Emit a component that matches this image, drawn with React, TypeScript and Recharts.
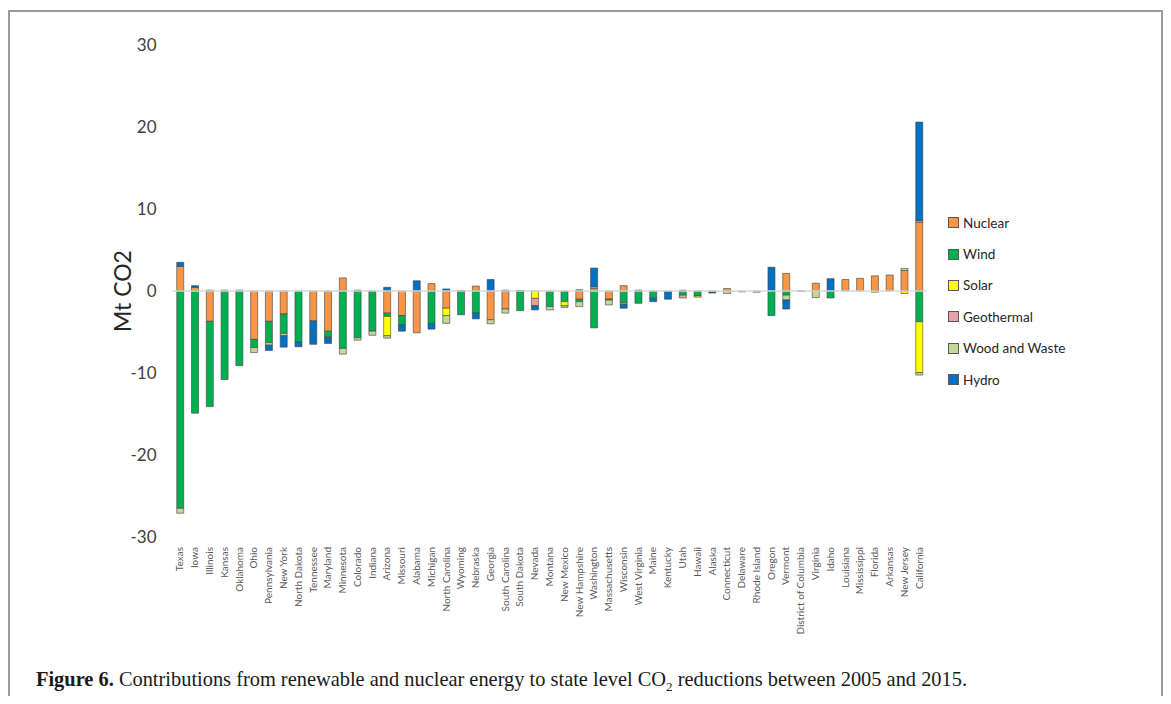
import React from 'react';
import { BarChart, Bar, XAxis, YAxis, ReferenceLine } from 'recharts';

const states = [
  'Texas', 'Iowa', 'Illinois', 'Kansas', 'Oklahoma', 'Ohio', 'Pennsylvania', 'New York', 'North Dakota',
  'Tennessee', 'Maryland', 'Minnesota', 'Colorado', 'Indiana', 'Arizona', 'Missouri', 'Alabama', 'Michigan',
  'North Carolina', 'Wyoming', 'Nebraska', 'Georgia', 'South Carolina', 'South Dakota', 'Nevada', 'Montana',
  'New Mexico', 'New Hampshire', 'Washington', 'Massachusetts', 'Wisconsin', 'West Virginia', 'Maine',
  'Kentucky', 'Utah', 'Hawaii', 'Alaska', 'Connecticut', 'Delaware', 'Rhode Island', 'Oregon', 'Vermont',
  'District of Columbia', 'Virginia', 'Idaho', 'Louisiana', 'Mississippi', 'Florida', 'Arkansas',
  'New Jersey', 'California',
];

const nuclear = [
  3.0, 0.45, -3.7, 0, 0, -5.9, -3.7, -2.8, 0, -3.65, -4.9, 1.6, 0, 0, -2.7, -3.0, -5.1, 0.9,
  -2.1, 0, 0.6, -3.5, -2.2, 0, 0, 0, 0, -1.0, 0.3, -1.0, 0.65, 0, 0,
  0, 0, 0, 0, 0.3, 0, 0, 0, 2.15, 0, 0.95, 0, 1.4, 1.55, 1.85, 1.95, 2.5, 8.4,
];
const wind = [
  -26.5, -14.9, -10.4, -10.8, -9.1, -1.0, -2.6, -2.4, -6.2, 0, -0.7, -7.0, -5.7, -4.9, -0.4, -1.15, 0, -3.95,
  0, -2.9, -2.7, 0, 0, -2.4, 0, -1.9, -1.3, -0.3, -4.5, -0.1, -1.4, -1.5, -0.9,
  0, -0.5, -0.6, -0.15, 0, 0, 0, -3.0, -0.5, 0, 0, -0.85, 0, 0, 0, 0, 0, -3.75,
];
const solar = [
  0, 0, 0, 0, 0, 0, 0, 0, 0, 0, 0, 0, 0, 0, -2.35, 0, 0, 0,
  -0.9, 0, 0, 0, 0, 0, -0.9, 0, -0.5, 0, 0, 0, 0, 0, 0,
  0, 0, -0.15, 0, 0, -0.1, 0, 0, 0, -0.05, 0, 0, 0, 0, -0.15, 0, -0.3, -6.2,
];
const geothermal = [
  0, 0, 0, 0, 0, 0, 0, 0, 0, 0, 0, 0, 0, 0, 0, 0, 0, 0,
  0, 0, 0, 0, 0, 0, -0.9, 0, 0, 0, 0, 0, 0, 0, 0,
  0, -0.35, 0, 0, 0, 0, 0, 0, 0, 0, 0, 0, 0, 0, 0, 0, 0, 0.2,
];
const woodWaste = [
  -0.6, 0, 0.1, 0.1, 0.1, -0.6, -0.3, -0.25, 0, 0, -0.1, -0.7, -0.3, -0.5, -0.3, 0, 0, 0,
  -0.95, 0, 0, -0.5, -0.5, 0, 0, -0.4, -0.2, -0.6, 0.2, -0.6, -0.2, 0, 0,
  0, 0, 0, 0, -0.3, 0, -0.15, 0, -0.6, 0, -0.8, 0, 0, 0, 0, 0, 0.25, -0.3,
];
const hydro = [
  0.5, 0.2, 0, 0, 0, 0, -0.65, -1.4, -0.6, -2.85, -0.7, 0, 0.1, 0, 0.45, -0.75, 1.25, -0.7,
  0.25, 0.05, -0.7, 1.4, 0.1, 0.05, -0.5, 0, 0, 0.15, 2.3, 0, -0.5, 0.1, -0.4,
  -1.0, 0.1, 0, -0.1, 0, 0, 0, 2.9, -1.1, 0, 0, 1.5, 0, 0, 0, 0, 0, 12.0,
];

const yTicks = [-30, -20, -10, 0, 10, 20, 30];

const series = [
  { key: 'nuclear', name: 'Nuclear', color: '#F79646' },
  { key: 'wind', name: 'Wind', color: '#00B050' },
  { key: 'solar', name: 'Solar', color: '#FFFF00' },
  { key: 'geothermal', name: 'Geothermal', color: '#E6A0A6' },
  { key: 'wood', name: 'Wood and Waste', color: '#C4D79B' },
  { key: 'hydro', name: 'Hydro', color: '#0070C0' },
];

const data = states.map((s, i) => ({
  state: s,
  nuclear: nuclear[i],
  wind: wind[i],
  solar: solar[i],
  geothermal: geothermal[i],
  wood: woodWaste[i],
  hydro: hydro[i],
}));

const FONT = 'Lato, "Open Sans", sans-serif';

function StateTick({ x, y, payload }: any) {
  return (
    <text
      x={x}
      y={y}
      transform={`rotate(-90, ${x}, ${y})`}
      dy={3.5}
      textAnchor="end"
      fontSize={10}
      fill="#595959"
      fontFamily={FONT}
    >
      {payload.value}
    </text>
  );
}

function LegendBox() {
  return (
    <div style={{ position: 'absolute', left: 948, top: 207, fontFamily: FONT, fontSize: 13.5, color: '#262626' }}>
      {series.map((s) => (
        <div key={s.key} style={{ display: 'flex', alignItems: 'center', height: 31.4 }}>
          <span
            style={{
              width: 9,
              height: 9,
              background: s.color,
              border: '1px solid #595959',
              marginRight: 4,
              display: 'inline-block',
            }}
          />
          {s.name}
        </div>
      ))}
    </div>
  );
}

export default function App() {
  return (
    <div style={{ position: 'relative', width: 1171, height: 704, margin: -8, background: '#fff' }}>
      <div
        style={{
          position: 'absolute',
          left: 8,
          top: 10,
          width: 1155,
          height: 694,
          boxSizing: 'border-box',
          borderTop: '2px solid #9a9a9a',
          borderLeft: '2px solid #9a9a9a',
          borderRight: '2px solid #9a9a9a',
        }}
      />
      <div style={{ position: 'absolute', left: 0, top: 0 }}>
        <BarChart
          width={1171}
          height={704}
          data={data}
          stackOffset="sign"
          barCategoryGap="28%"
          margin={{ top: 45, right: 244.6, left: 0, bottom: 0 }}
        >
          <XAxis
            dataKey="state"
            axisLine={false}
            tickLine={false}
            interval={0}
            height={167}
            tick={<StateTick />}
            tickMargin={4}
          />
          <YAxis
            domain={[-30, 30]}
            ticks={yTicks}
            width={172.6}
            axisLine={false}
            tickLine={false}
            tickMargin={10}
            tick={{ fontSize: 17, fill: '#404040', fontFamily: FONT }}
            label={{
              content: ({ viewBox }: any) => {
                const cx = 122;
                const cy = viewBox.y + viewBox.height / 2;
                return (
                  <text
                    x={cx}
                    y={cy}
                    transform={`rotate(-90, ${cx}, ${cy})`}
                    textAnchor="middle"
                    dominantBaseline="central"
                    fontSize={23}
                    fill="#262626"
                    fontFamily={FONT}
                  >
                    Mt CO2
                  </text>
                );
              },
            }}
          />
          <ReferenceLine y={0} stroke="#d9d9d9" strokeWidth={1.5} />
          {series.map((s) => (
            <Bar
              key={s.key}
              dataKey={s.key}
              name={s.name}
              stackId="a"
              fill={s.color}
              stroke="#3f3f3f"
              strokeWidth={0.6}
              isAnimationActive={false}
            />
          ))}
        </BarChart>
      </div>
      <LegendBox />
      <div
        style={{
          position: 'absolute',
          left: 36,
          top: 668,
          fontFamily: '"Liberation Serif", "DejaVu Serif", serif',
          fontSize: 20.4,
          color: '#1a1a1a',
          whiteSpace: 'nowrap',
        }}
      >
        <b>Figure 6.</b> Contributions from renewable and nuclear energy to state level CO
        <sub style={{ fontSize: 13 }}>2</sub> reductions between 2005 and 2015.
      </div>
    </div>
  );
}
